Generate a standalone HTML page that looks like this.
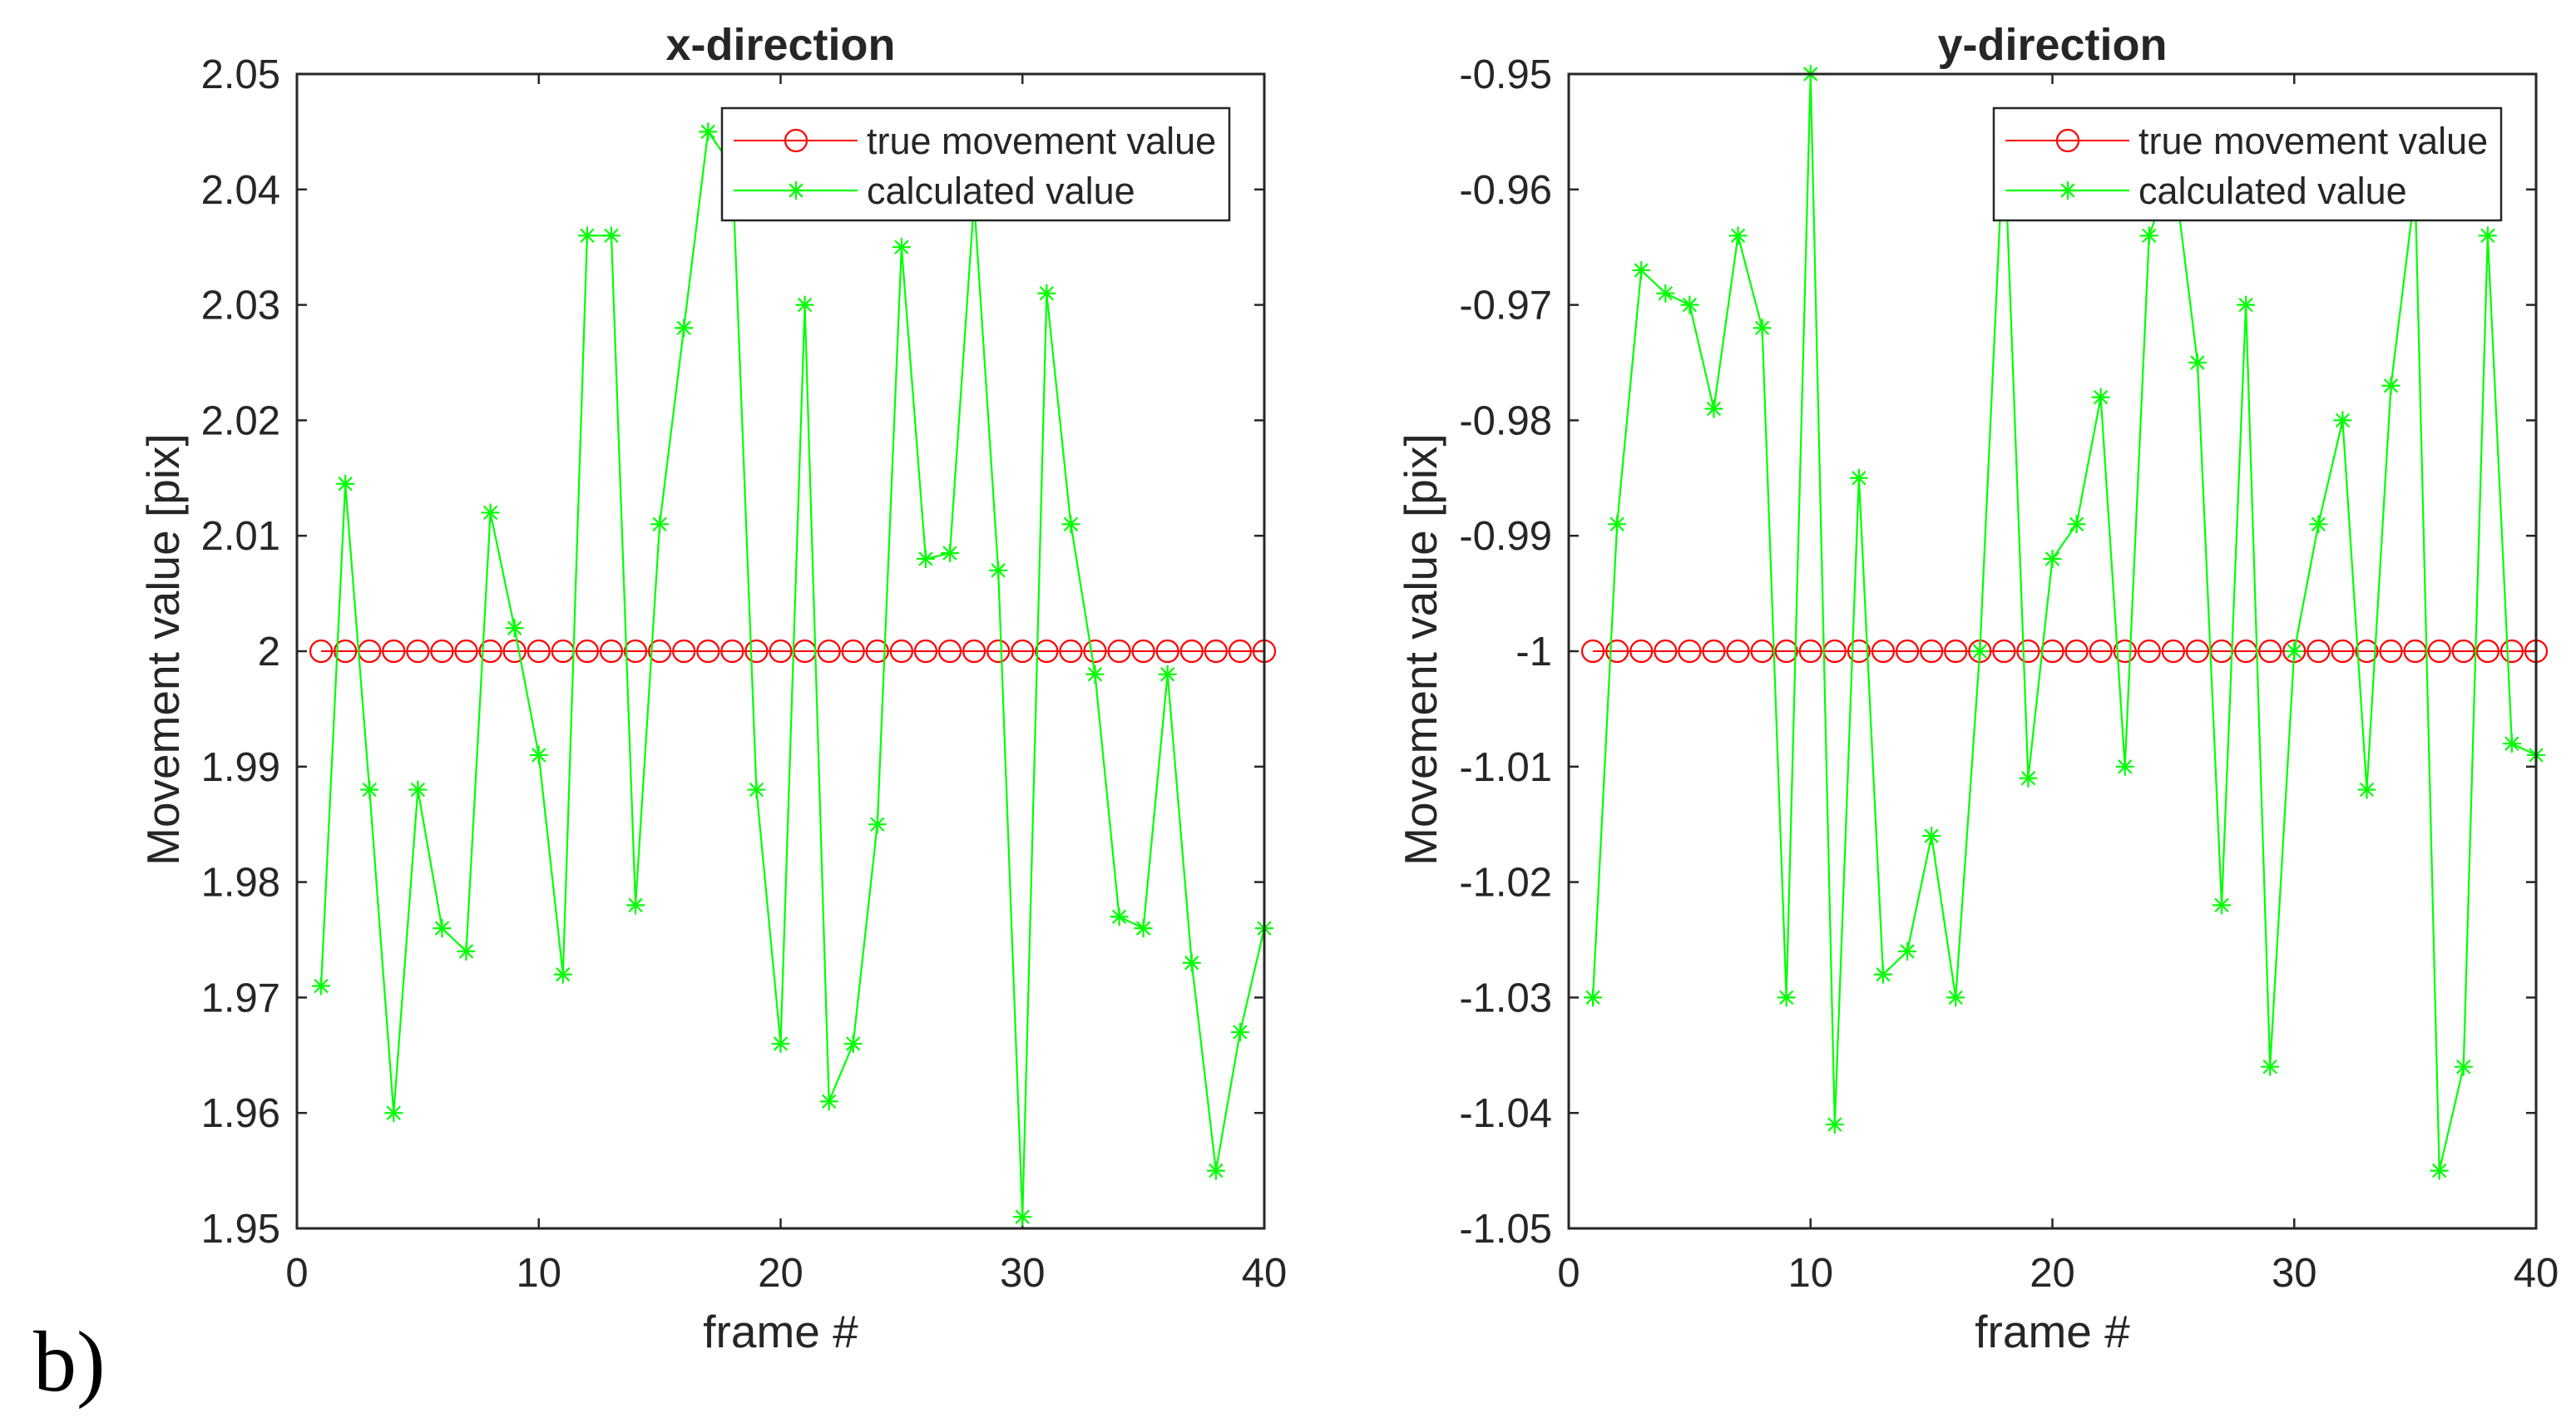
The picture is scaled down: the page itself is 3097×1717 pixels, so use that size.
<!DOCTYPE html>
<html><head><meta charset="utf-8"><style>
html,body{margin:0;padding:0;background:#fff;}
svg{display:block;}
text{font-family:"Liberation Sans",Arial,sans-serif;fill:#262626;}
</style></head><body>
<svg id="fig" width="3097" height="1717" viewBox="0 0 3097 1717" xmlns="http://www.w3.org/2000/svg">
<text x="40" y="1672" style="font-family:'Liberation Serif',serif;font-size:104px;fill:#000">b)</text>
</svg>
<script>
const frames = Array.from({length:40},(_,i)=>i+1);
const xTrue = 2;
const xCalc = [1.971,2.0145,1.988,1.960,1.988,1.976,1.974,2.012,2.002,1.991,1.972,2.036,2.036,1.978,2.011,2.028,2.045,2.042,1.988,1.966,2.030,1.961,1.966,1.985,2.035,2.008,2.0085,2.039,2.007,1.951,2.031,2.011,1.998,1.977,1.976,1.998,1.973,1.955,1.967,1.976];
const yTrue = -1;
const yCalc = [-1.030,-0.989,-0.967,-0.969,-0.970,-0.979,-0.964,-0.972,-1.030,-0.950,-1.041,-0.985,-1.028,-1.026,-1.016,-1.030,-1.000,-0.955,-1.011,-0.992,-0.989,-0.978,-1.010,-0.964,-0.958,-0.975,-1.022,-0.970,-1.036,-1.000,-0.989,-0.980,-1.012,-0.977,-0.960,-1.045,-1.036,-0.964,-1.008,-1.009];
const xTicksX = [0,10,20,30,40];
const xDirTicks = [1.95,1.96,1.97,1.98,1.99,2,2.01,2.02,2.03,2.04,2.05];
const xDirTickLabels = ["1.95","1.96","1.97","1.98","1.99","2","2.01","2.02","2.03","2.04","2.05"];
const yDirTicks = [-1.05,-1.04,-1.03,-1.02,-1.01,-1,-0.99,-0.98,-0.97,-0.96,-0.95];
const yDirTickLabels = ["-1.05","-1.04","-1.03","-1.02","-1.01","-1","-0.99","-0.98","-0.97","-0.96","-0.95"];

const NS="http://www.w3.org/2000/svg";
const svg=document.getElementById('fig');
function mk(tag,attrs,parent){const e=document.createElementNS(NS,tag);for(const k in attrs)e.setAttribute(k,attrs[k]);(parent||svg).appendChild(e);return e;}

function panel(opt){
  const L=opt.left,R=opt.right,T=89,B=1477;
  const sx=v=>L+(v-0)/(40-0)*(R-L);
  const sy=v=>B-(v-opt.ymin)/(opt.ymax-opt.ymin)*(B-T);
  const g=mk('g',{});
  
  
  xTicksX.forEach(t=>{
    const x=sx(t);
    mk('line',{x1:x,y1:B,x2:x,y2:B-12,stroke:'#262626','stroke-width':2.5},g);
    mk('line',{x1:x,y1:T,x2:x,y2:T+12,stroke:'#262626','stroke-width':2.5},g);
    const tx=mk('text',{x:x,y:1547,'text-anchor':'middle','font-size':49},g);
    tx.textContent=t;
    
    
  });
  opt.ticks.forEach((t,i)=>{
    const y=sy(t);
    mk('line',{x1:L,y1:y,x2:L+12,y2:y,stroke:'#262626','stroke-width':2.5},g);
    mk('line',{x1:R,y1:y,x2:R-12,y2:y,stroke:'#262626','stroke-width':2.5},g);
    const tx=mk('text',{x:L-20,y:y+17,'text-anchor':'end','font-size':49},g);
    tx.textContent=opt.tickLabels[i];
    
    
  });
  let d='';frames.forEach((f,i)=>{d+=(i?'L':'M')+sx(f)+','+sy(opt.trueVal);});
  const tl=mk('path',{d:d,stroke:'#ff0000','stroke-width':2,fill:'none'},g);
  
  
  frames.forEach(f=>{
    const c=mk('circle',{cx:sx(f),cy:sy(opt.trueVal),r:13,stroke:'#ff0000','stroke-width':2.2,fill:'none'},g);
    
    
  });
  d='';opt.calc.forEach((v,i)=>{d+=(i?'L':'M')+sx(frames[i])+','+sy(v);});
  const cl=mk('path',{d:d,stroke:'#00ff00','stroke-width':2.2,fill:'none'},g);
  
  
  opt.calc.forEach((v,i)=>{star(g,sx(frames[i]),sy(v));});
  mk('rect',{x:L,y:T,width:R-L,height:B-T,fill:'none',stroke:'#262626','stroke-width':3},g);
  const lx=opt.legX,ly=130,lw=610,lh=135;
  const lg=mk('g',{},g);
  
  
  mk('rect',{x:lx,y:ly,width:lw,height:lh,fill:'#fff',stroke:'#262626','stroke-width':2.5},lg);
  mk('line',{x1:lx+14,y1:ly+39,x2:lx+163,y2:ly+39,stroke:'#ff0000','stroke-width':2},lg);
  mk('circle',{cx:lx+89,cy:ly+39,r:13,stroke:'#ff0000','stroke-width':2.2,fill:'none'},lg);
  mk('line',{x1:lx+14,y1:ly+99,x2:lx+163,y2:ly+99,stroke:'#00ff00','stroke-width':2.2},lg);
  star(lg,lx+89,ly+99);
  const t1=mk('text',{x:lx+174,y:ly+55,'font-size':45,fill:'#000'},lg);t1.textContent='true movement value';
  
  
  const t2=mk('text',{x:lx+174,y:ly+115,'font-size':45,fill:'#000'},lg);t2.textContent='calculated value';
  
  
  const ti=mk('text',{x:(L+R)/2,y:72,'text-anchor':'middle','font-size':54,'font-weight':'bold',fill:'#000'},g);
  ti.textContent=opt.title;
  
  
  const xl=mk('text',{x:(L+R)/2,y:1620,'text-anchor':'middle','font-size':55},g);
  xl.textContent='frame #';
  
  
  const yl=mk('text',{x:0,y:0,'text-anchor':'middle','font-size':55,transform:'translate('+opt.ylabX+','+((T+B)/2-2)+') rotate(-90)'},g);
  yl.textContent='Movement value [pix]';
  
  
}
function star(g,x,y){
  const s=11;
  const p=mk('path',{d:`M${x-s},${y}L${x+s},${y}M${x},${y-s}L${x},${y+s}M${x-s*0.72},${y-s*0.72}L${x+s*0.72},${y+s*0.72}M${x-s*0.72},${y+s*0.72}L${x+s*0.72},${y-s*0.72}`,stroke:'#00ff00','stroke-width':2.2,fill:'none'},g);
  
  
}
panel({name:'x-direction-chart',left:357,right:1520,ymin:1.95,ymax:2.05,ticks:xDirTicks,tickLabels:xDirTickLabels,trueVal:xTrue,calc:xCalc,legX:868,title:'x-direction',ylabX:215});
panel({name:'y-direction-chart',left:1886,right:3049,ymin:-1.05,ymax:-0.95,ticks:yDirTicks,tickLabels:yDirTickLabels,trueVal:yTrue,calc:yCalc,legX:2397,title:'y-direction',ylabX:1727});
</script>
</body></html>
